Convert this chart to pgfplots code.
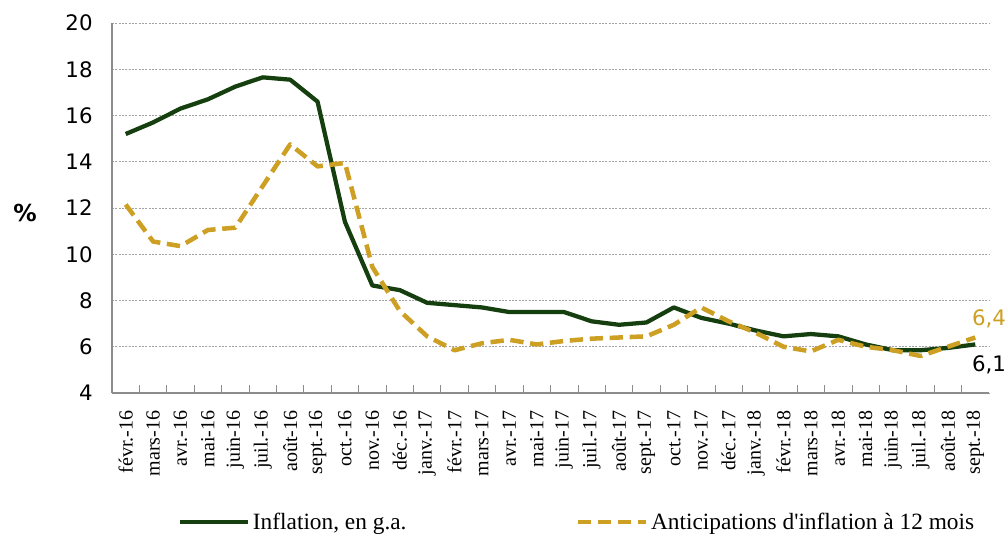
\documentclass[border=0pt]{standalone}
\usepackage{pgfplots}
\pgfplotsset{compat=1.18}
\usepackage{fontspec}
\setmainfont{Liberation Serif}
\newfontfamily\legfont{Liberation Serif}[Ligatures=TeXOff]
\newfontfamily\sansf{DejaVu Sans}
\newfontfamily\sansbf{DejaVu Sans Bold}
\definecolor{infl}{HTML}{163F10}
\definecolor{antic}{HTML}{CDA023}
\definecolor{grd}{HTML}{8C8C8C}
\begin{document}
\begin{tikzpicture}
\path[use as bounding box] (-84pt,-108pt) rectangle (671.25pt,294.75pt);
\begin{axis}[
  scale only axis,
  width=657.75pt, height=277.5pt,
  at={(0,0)}, anchor=south west,
  xmin=-0.5, xmax=31.5, ymin=4, ymax=20,
  ytick={4,6,...,20},
  xtick={0,...,31},
  xticklabels={févr.-16,mars-16,avr.-16,mai-16,juin-16,juil.-16,août-16,sept.-16,oct.-16,nov.-16,déc.-16,janv.-17,févr.-17,mars-17,avr.-17,mai-17,juin-17,juil.-17,août-17,sept.-17,oct.-17,nov.-17,déc.-17,janv.-18,févr.-18,mars-18,avr.-18,mai-18,juin-18,juil.-18,août-18,sept.-18},
  minor x tick num=1,
  major tick length=0pt,
  minor tick length=6pt,
  tick align=inside,
  tick style={grd, line width=0.6pt},
  axis x line*=bottom, axis y line*=left,
  axis line style={grd, line width=0.8pt, -},
  ymajorgrids,
  major grid style={grd!80, line width=0.5pt, dash pattern=on 1.5pt off 1pt},
  /pgf/number format/assume math mode=true,
  yticklabel style={font=\sansf\fontsize{16}{18}\selectfont, xshift=-11pt},
  xticklabel style={font=\fontsize{15}{18}\selectfont, yshift=-13pt, rotate=90, anchor=east, inner sep=0pt},
  clip=false,
  legend columns=2,
  legend style={draw=none, at={(0.075,-0.349)}, anchor=west, font=\legfont\fontsize{17.5}{20}\selectfont, inner xsep=0pt,
    /tikz/every even column/.append style={column sep=125pt}},
  legend image code/.code={\draw[#1] (0pt,0pt) -- (46pt,0pt); \path (0pt,0pt) -- (51pt,0pt);},
]
\addplot[infl, line width=3.2pt, line join=round] coordinates {
(0,15.2)(1,15.7)(2,16.3)(3,16.7)(4,17.25)(5,17.65)(6,17.55)(7,16.6)(8,11.4)(9,8.65)(10,8.45)(11,7.9)(12,7.8)(13,7.7)(14,7.5)(15,7.5)(16,7.5)(17,7.1)(18,6.95)(19,7.05)(20,7.7)(21,7.25)(22,7.0)(23,6.7)(24,6.45)(25,6.55)(26,6.45)(27,6.1)(28,5.85)(29,5.85)(30,5.95)(31,6.1)};
\addlegendentry{Inflation, en g.a.}
\addplot[antic, line width=3.4pt, dash pattern=on 10pt off 5pt, line join=round] coordinates {
(0,12.15)(1,10.55)(2,10.35)(3,11.05)(4,11.15)(5,12.95)(6,14.75)(7,13.8)(8,13.95)(9,9.45)(10,7.55)(11,6.45)(12,5.85)(13,6.15)(14,6.3)(15,6.1)(16,6.25)(17,6.35)(18,6.4)(19,6.45)(20,6.95)(21,7.7)(22,7.1)(23,6.6)(24,6.0)(25,5.8)(26,6.3)(27,6.0)(28,5.85)(29,5.6)(30,6.0)(31,6.4)};
\addlegendentry{Anticipations d'inflation à 12 mois}
\node[antic, font=\sansf\fontsize{16}{18}\selectfont] at (axis cs:31.5,7.2) {6,4};
\node[black, font=\sansf\fontsize{16}{18}\selectfont] at (axis cs:31.5,5.21) {6,1};
\node[font=\sansbf\fontsize{17.5}{20}\selectfont] at (rel axis cs:-0.099,0.486) {\%};
\end{axis}
\end{tikzpicture}
\end{document}
